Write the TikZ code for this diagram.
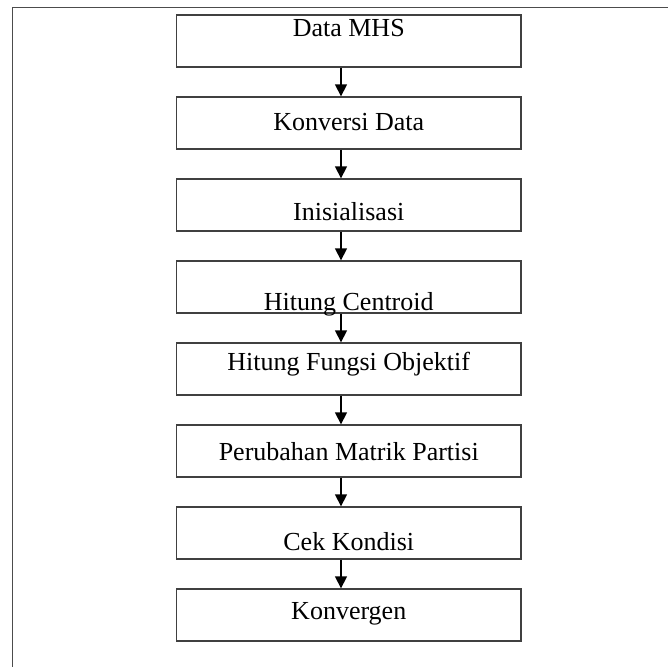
\documentclass[tikz,border=0pt]{standalone}
\usepackage{fontspec}
\setmainfont{Liberation Serif}
\usetikzlibrary{arrows.meta,positioning}
\tikzset{
	flow chart/.style={
		x=0.75pt, y=-0.75pt,
		node distance=21.5pt and 0pt,
		font=\fontsize{19.5}{23}\selectfont,
		ar/.style={draw=black, line width=1.1pt, -{Triangle[length=9pt,width=9pt]}},
		frame/.style={draw=black!70, line width=1.1pt}
		},
	fc box/.style={draw=black!75, line width=1pt, minimum width=258.4pt,
		minimum height=39pt, inner sep=0pt}
}
\newcommand{\fcraise}[2]{\raisebox{#1}[0pt][0pt]{#2}}

\begin{document}
\begin{tikzpicture}[flow chart]
   \useasboundingbox (0,0) rectangle (668,667);
   \draw[frame] (668,7.5) -- (12.5,7.5) -- (12.5,667);
   \node[fc box] (mhs) at (348.75,41) {\fcraise{3.25pt}{Data MHS}};
   \node[fc box, below=of mhs]   (konv)    {\fcraise{-5.5pt}{Konversi Data}};
   \node[fc box, below=of konv]  (init)    {\fcraise{-11.5pt}{Inisialisasi}};
   \node[fc box, below=of init]  (cent)    {\fcraise{-17.5pt}{Hitung Centroid}};
   \node[fc box, below=of cent]  (fobj)    {\fcraise{-0.75pt}{Hitung Fungsi Objektif}};
   \node[fc box, below=of fobj]  (partisi) {\fcraise{-7.25pt}{Perubahan Matrik Partisi}};
   \node[fc box, below=of partisi] (cek)   {\fcraise{-13.25pt}{Cek Kondisi}};
   \node[fc box, below=of cek]   (konvg)   {\fcraise{-3pt}{Konvergen}};
   \coordinate (ax) at (341,0);
   \foreach \a/\b in {mhs/konv, konv/init, init/cent, cent/fobj, fobj/partisi, partisi/cek, cek/konvg}
      \draw[ar] (\a.south -| ax) -- (\b.north -| ax);
\end{tikzpicture}
\end{document}
